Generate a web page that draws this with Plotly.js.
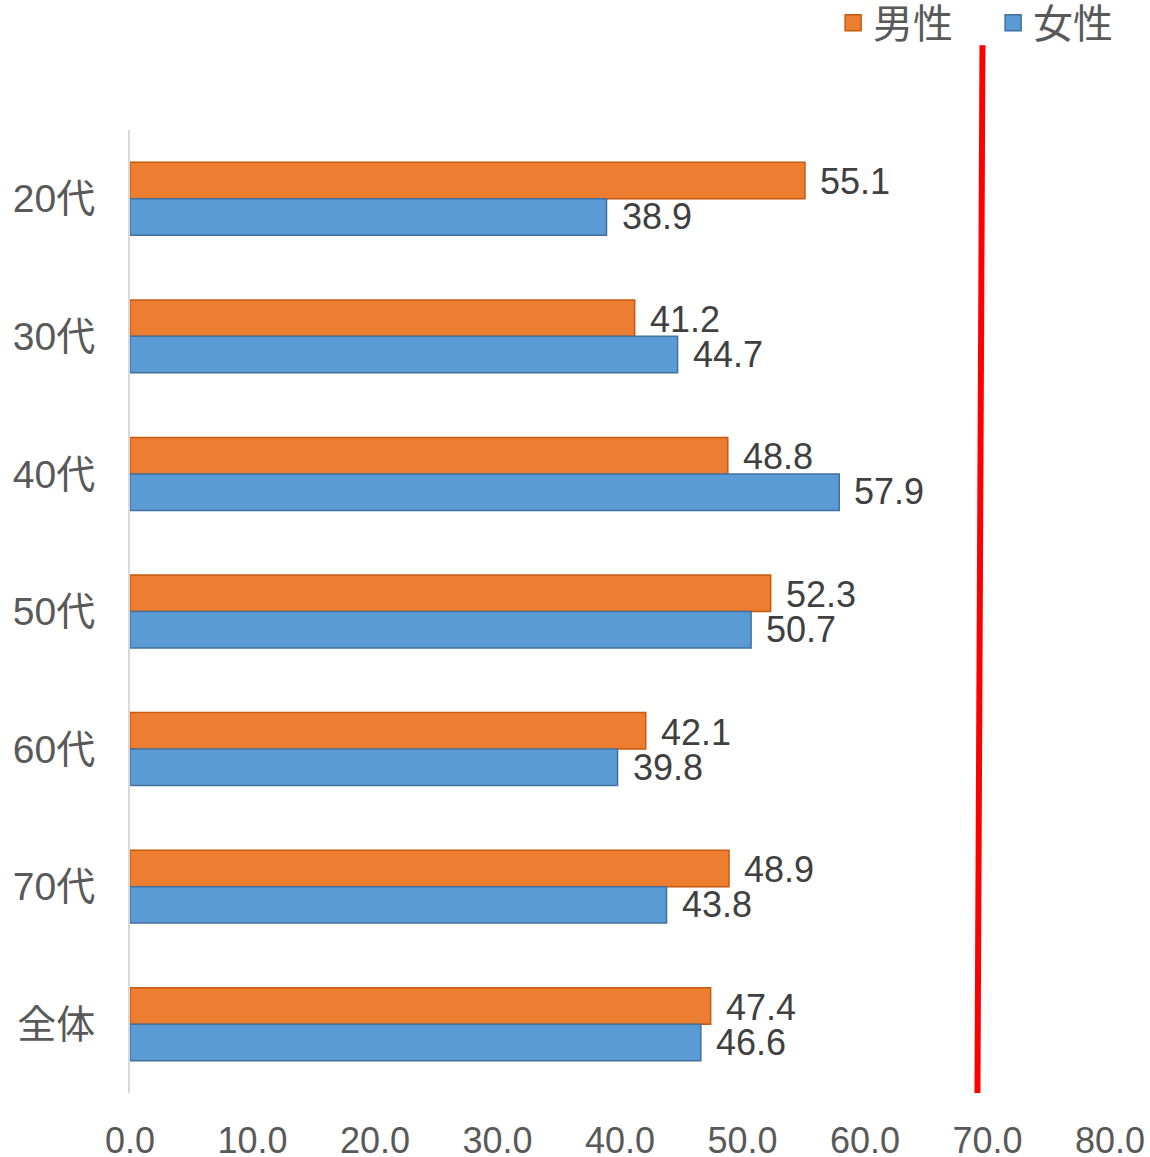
<!DOCTYPE html>
<html>
<head>
<meta charset="utf-8">
<script src="https://cdn.plot.ly/plotly-3.0.1.min.js"></script>
<style>html,body{margin:0;padding:0;background:#fff;}#chart{width:1150px;height:1157px;}</style>
</head>
<body>
<div id="chart"></div>
<script>
const categories = ['20代', '30代', '40代', '50代', '60代', '70代', '全体'];
const seriesNames = ['男性', '女性'];
const maleValues = [55.1, 41.2, 48.8, 52.3, 42.1, 48.9, 47.4];
const femaleValues = [38.9, 44.7, 57.9, 50.7, 39.8, 43.8, 46.6];
const xTickValues = [0, 10, 20, 30, 40, 50, 60, 70, 80];

const FONT = '"Liberation Sans", Arial, "Noto Sans CJK JP", sans-serif';
const COLORS = ['#ED7D31', '#5B9BD5'];
const EDGES = ['#C55A11', '#41719C'];

const traces = [
  {
    type: 'bar', orientation: 'h', name: seriesNames[0], legendgroup: 'm', showlegend: false,
    y: categories, x: maleValues,
    marker: {color: COLORS[0], line: {color: EDGES[0], width: 1.5}},
    hoverinfo: 'x+y'
  },
  {
    type: 'bar', orientation: 'h', name: seriesNames[1], legendgroup: 'f', showlegend: false,
    y: categories, x: femaleValues,
    marker: {color: COLORS[1], line: {color: EDGES[1], width: 1.5}},
    hoverinfo: 'x+y'
  },
  // legend keys (square markers) for the two bar series
  {
    type: 'scatter', mode: 'markers', name: seriesNames[0], legendgroup: 'm', showlegend: true,
    x: [null], y: [null],
    marker: {symbol: 'square', size: 16, color: COLORS[0], line: {color: EDGES[0], width: 1.5}}
  },
  {
    type: 'scatter', mode: 'markers', name: seriesNames[1], legendgroup: 'f', showlegend: true,
    x: [null], y: [null],
    marker: {symbol: 'square', size: 16, color: COLORS[1], line: {color: EDGES[1], width: 1.5}}
  }
];

const annotations = [];
function addLabels(values, yshift) {
  values.forEach((v, i) => {
    annotations.push({
      x: v, y: categories[i], xref: 'x', yref: 'y',
      text: v.toFixed(1), showarrow: false,
      xanchor: 'left', yanchor: 'middle',
      xshift: 13, yshift: yshift,
      font: {family: FONT, size: 36, color: '#404040'}
    });
  });
}
addLabels(maleValues, 17);
addLabels(femaleValues, -18);

const layout = {
  width: 1150, height: 1157,
  margin: {l: 130, r: 40, t: 130, b: 64, autoexpand: false},
  paper_bgcolor: '#ffffff', plot_bgcolor: '#ffffff',
  barmode: 'group', bargap: 0.47, bargroupgap: 0,
  showlegend: true,
  legend: {
    orientation: 'h', xref: 'paper', yref: 'paper',
    x: 1.044, xanchor: 'right', y: 1.145, yanchor: 'top',
    bgcolor: 'rgba(0,0,0,0)',
    font: {family: '"Noto Sans CJK JP", sans-serif', size: 40, color: '#595959'},
    traceorder: 'normal', entrywidth: 115, entrywidthmode: 'pixels',
    itemsizing: 'trace'
  },
  xaxis: {
    range: [0, 80], tickvals: xTickValues, tickformat: '.1f',
    showgrid: false, zeroline: false, showline: false, ticks: '',
    ticklabelstandoff: 23,
    tickfont: {family: FONT, size: 36, color: '#595959'},
    fixedrange: true
  },
  yaxis: {
    type: 'category', autorange: 'reversed',
    showgrid: false, zeroline: false, showline: true,
    linecolor: '#D9D9D9', linewidth: 2, ticks: '',
    ticklabelstandoff: 25,
    tickfont: {family: FONT, size: 39, color: '#595959'},
    fixedrange: true
  },
  shapes: [
    {type: 'line', xref: 'x', yref: 'paper', x0: 69.59, y0: 1.088, x1: 69.18, y1: 0,
     line: {color: '#FF0000', width: 6}}
  ],
  annotations: annotations
};

Plotly.newPlot('chart', traces, layout, {displayModeBar: false, staticPlot: true});
</script>
</body>
</html>
